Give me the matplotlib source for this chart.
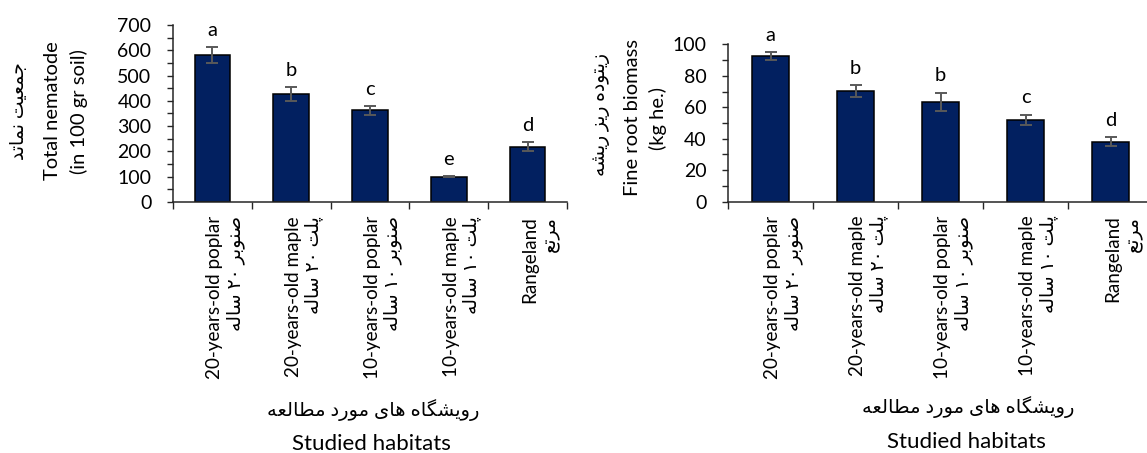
import re
import matplotlib
matplotlib.use("Agg")
import matplotlib.pyplot as plt
from matplotlib.ticker import MultipleLocator, FixedLocator

# ---------------- data ----------------
categories_en = ["20-years-old poplar", "20-years-old maple", "10-years-old poplar",
                 "10-years-old maple", "Rangeland"]
categories_fa = ["صنوبر ۲۰ ساله", "پلت ۲۰ ساله", "صنوبر ۱۰ ساله", "پلت ۱۰ ساله", "مرتع"]

nematode_vals = [581, 427, 363, 100, 219]
nematode_err = [33, 27, 17, 3, 18]
nematode_letters = ["a", "b", "c", "e", "d"]

root_vals = [92.5, 70.5, 63.5, 52.0, 38.2]
root_err = [2.4, 3.7, 5.8, 3.3, 2.9]
root_letters = ["a", "b", "b", "c", "d"]

ylabel1_fa = "جمعیت نماتد"
ylabel1_en = ["Total nematode", "(in 100 gr soil)"]
ylabel2_fa = "زیتوده ریز ریشه"
ylabel2_en = ["Fine root biomass", "(kg he.)"]
xlabel_fa = "رویشگاه های مورد مطالعه"
xlabel_en = "Studied habitats"

# ---------------- minimal Arabic-script shaping (presentation forms) ----------------
FORMS = {
    '\u0627': ('\uFE8D', '\uFE8E', None, None),
    '\u0628': ('\uFE8F', '\uFE90', '\uFE91', '\uFE92'),
    '\u067E': ('\uFB56', '\uFB57', '\uFB58', '\uFB59'),
    '\u062A': ('\uFE95', '\uFE96', '\uFE97', '\uFE98'),
    '\u062C': ('\uFE9D', '\uFE9E', '\uFE9F', '\uFEA0'),
    '\u062F': ('\uFEA9', '\uFEAA', None, None),
    '\u0631': ('\uFEAD', '\uFEAE', None, None),
    '\u0632': ('\uFEAF', '\uFEB0', None, None),
    '\u0633': ('\uFEB1', '\uFEB2', '\uFEB3', '\uFEB4'),
    '\u0634': ('\uFEB5', '\uFEB6', '\uFEB7', '\uFEB8'),
    '\u0635': ('\uFEB9', '\uFEBA', '\uFEBB', '\uFEBC'),
    '\u0637': ('\uFEC1', '\uFEC2', '\uFEC3', '\uFEC4'),
    '\u0639': ('\uFEC9', '\uFECA', '\uFECB', '\uFECC'),
    '\u06AF': ('\uFB92', '\uFB93', '\uFB94', '\uFB95'),
    '\u0644': ('\uFEDD', '\uFEDE', '\uFEDF', '\uFEE0'),
    '\u0645': ('\uFEE1', '\uFEE2', '\uFEE3', '\uFEE4'),
    '\u0646': ('\uFEE5', '\uFEE6', '\uFEE7', '\uFEE8'),
    '\u0647': ('\uFEE9', '\uFEEA', '\uFEEB', '\uFEEC'),
    '\u0648': ('\uFEED', '\uFEEE', None, None),
    '\u06CC': ('\uFBFC', '\uFBFD', '\uFBFE', '\uFBFF'),
}


def fa(s):
    out = []
    for i, c in enumerate(s):
        if c not in FORMS:
            out.append(c)
            continue
        f = FORMS[c]
        prev = s[i - 1] if i > 0 else ''
        nxt = s[i + 1] if i + 1 < len(s) else ''
        jp = prev in FORMS and FORMS[prev][2] is not None
        jn = f[2] is not None and nxt in FORMS
        if jp and jn:
            out.append(f[3])
        elif jp:
            out.append(f[1])
        elif jn:
            out.append(f[2])
        else:
            out.append(f[0])
    vis = ''.join(out)[::-1]
    vis = re.sub(r'[\u06F0-\u06F90-9]+', lambda m: m.group(0)[::-1], vis)
    return vis


# ---------------- style ----------------
FAM = ['Lato', 'DejaVu Sans']
plt.rcParams['font.family'] = FAM
BAR = '#022060'
ERR = '#595959'
AX = '#262626'
W, H = 1147, 453

fig = plt.figure(figsize=(W / 100, H / 100), dpi=100)


def px(x, y):
    return x / W, 1 - y / H


def panel(rect, vals, errs, letters, ymax, ymajor, yminor, bar_w, label_shift_px):
    ax = fig.add_axes(rect)
    x = list(range(len(vals)))
    ax.bar(x, vals, width=bar_w, color=BAR, edgecolor='black', linewidth=1.1, zorder=2)
    ax.errorbar(x, vals, yerr=errs, fmt='none', ecolor=ERR, elinewidth=1.4,
                capsize=4.5, capthick=1.4, zorder=3)
    for xi, v, e, l in zip(x, vals, errs, letters):
        ax.annotate(l, (xi, v + e), xytext=(0, 12), textcoords='offset points',
                    ha='center', va='center', fontsize=14.5, annotation_clip=False)
    n = len(vals)
    ax.set_xlim(-0.5, n - 0.5)
    ax.set_ylim(0, ymax)
    ax.yaxis.set_major_locator(MultipleLocator(ymajor))
    ax.yaxis.set_minor_locator(MultipleLocator(yminor))
    ax.xaxis.set_major_locator(FixedLocator([i - 0.5 for i in range(n + 1)]))
    # label anchors: shifted right so the English line sits on the bar centre
    axw_px = rect[2] * W
    dx = label_shift_px * n / axw_px
    ax.xaxis.set_minor_locator(FixedLocator([xi + dx for xi in x]))
    ax.set_xticklabels([], minor=False)
    labels = [en + "\n" + fa(f) for en, f in zip(categories_en, categories_fa)]
    ax.set_xticklabels(labels, minor=True, rotation=90, fontsize=13.6,
                       ha='center', va='top', multialignment='right', linespacing=1.2)
    ax.tick_params(axis='x', which='major', direction='out', length=5, width=1, color=AX)
    ax.tick_params(axis='x', which='minor', length=0, pad=10)
    ax.tick_params(axis='y', which='both', direction='out', length=4.5, width=1,
                   color=AX, labelsize=14, pad=11)
    for s in ['top', 'right']:
        ax.spines[s].set_visible(False)
    for s in ['left', 'bottom']:
        ax.spines[s].set_color(AX)
        ax.spines[s].set_linewidth(1.1)
    return ax


ax1 = panel([173 / W, (H - 202) / H, 394 / W, 177 / H], nematode_vals, nematode_err,
            nematode_letters, 700, 100, 50, 0.45, 13)
ax2 = panel([728 / W, (H - 201.7) / H, 425 / W, 157.4 / H], root_vals, root_err,
            root_letters, 100, 20, 10, 0.44, 13)

# y-axis labels
fig.text(*px(19, 111), fa(ylabel1_fa), rotation=90, ha='center', va='center', fontsize=13.5)
fig.text(*px(52, 111), ylabel1_en[0], rotation=90, ha='center', va='center', fontsize=14.5)
fig.text(*px(79, 112), ylabel1_en[1], rotation=90, ha='center', va='center', fontsize=14.5)

fig.text(*px(602, 115), fa(ylabel2_fa), rotation=90, ha='center', va='center', fontsize=13.5)
fig.text(*px(632, 118), ylabel2_en[0], rotation=90, ha='center', va='center', fontsize=14.5)
fig.text(*px(658, 118), ylabel2_en[1], rotation=90, ha='center', va='center', fontsize=14.5)

# x-axis labels
fig.text(*px(373, 410), fa(xlabel_fa), ha='center', va='center', fontsize=14)
fig.text(*px(371, 444), xlabel_en, ha='center', va='center', fontsize=16)
fig.text(*px(968, 407), fa(xlabel_fa), ha='center', va='center', fontsize=14)
fig.text(*px(966, 442), xlabel_en, ha='center', va='center', fontsize=16)

fig.savefig("out.png", dpi=100)
